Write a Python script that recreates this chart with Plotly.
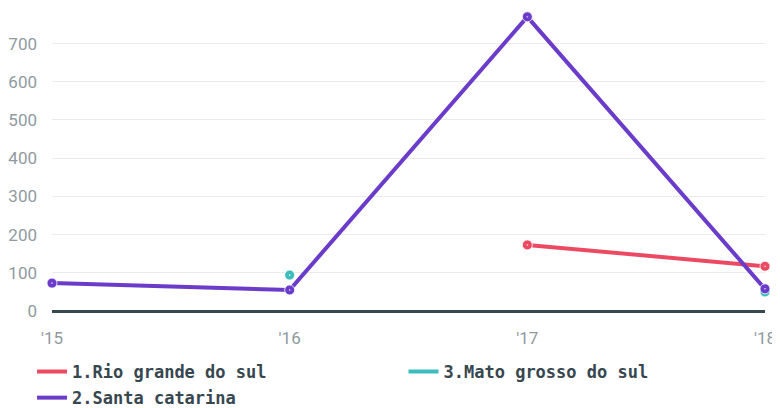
import plotly.graph_objects as go

years = ["'15", "'16", "'17", "'18"]
rio_grande = [None, None, 173, 117]
mato_grosso = [None, 94, None, 50]
santa_catarina = [73, 55, 770, 58]

series = [
    ("1.Rio grande do sul", rio_grande, "#ec4a62", "legend"),
    ("3.Mato grosso do sul", mato_grosso, "#3dbdbd", "legend2"),
    ("2.Santa catarina", santa_catarina, "#6b3bc9", "legend"),
]

fig = go.Figure()
for name, vals, color, leg in series:
    fig.add_trace(go.Scatter(
        x=years, y=vals, name=name, mode="lines", legendgroup=name, legend=leg,
        line=dict(color=color, width=4), cliponaxis=False, connectgaps=False,
    ))
for name, vals, color, leg in series:
    fig.add_trace(go.Scatter(
        x=years, y=vals, name=name, mode="markers", legendgroup=name,
        showlegend=False,
        marker=dict(color=color, size=10, symbol="circle-dot",
                    line=dict(color="white", width=0.8)),
        cliponaxis=False,
    ))

legend_font = dict(family="DejaVu Sans Mono", size=17, color="#37474f", weight="bold")

fig.update_layout(
    width=780, height=408,
    margin=dict(l=44, r=23, t=5, b=105),
    paper_bgcolor="white", plot_bgcolor="white",
    showlegend=True,
    legend=dict(
        orientation="v", xref="paper", yref="container",
        x=-0.028, y=0.152, xanchor="left", yanchor="top",
        font=legend_font, itemwidth=30, tracegroupgap=1, bgcolor="rgba(0,0,0,0)",
    ),
    legend2=dict(
        orientation="v", xref="paper", yref="container",
        x=0.493, y=0.152, xanchor="left", yanchor="top",
        font=legend_font, itemwidth=30, tracegroupgap=1, bgcolor="rgba(0,0,0,0)",
    ),
    xaxis=dict(
        type="category", range=[0, 3], showgrid=False, zeroline=False,
        showline=False, ticks="", automargin=False, ticklabelstandoff=15,
        tickfont=dict(family="Roboto", size=17, color="#8f9a9f"),
    ),
    yaxis=dict(
        range=[0, 780], tickvals=[0, 100, 200, 300, 400, 500, 600, 700],
        showgrid=True, gridcolor="#ebebeb", gridwidth=1,
        zeroline=True, zerolinecolor="#37474f", zerolinewidth=3,
        showline=False, ticks="", ticklabelstandoff=14, automargin=False,
        tickfont=dict(family="Roboto", size=17, color="#8f9a9f"),
    ),
)

fig.write_html("out.html")
